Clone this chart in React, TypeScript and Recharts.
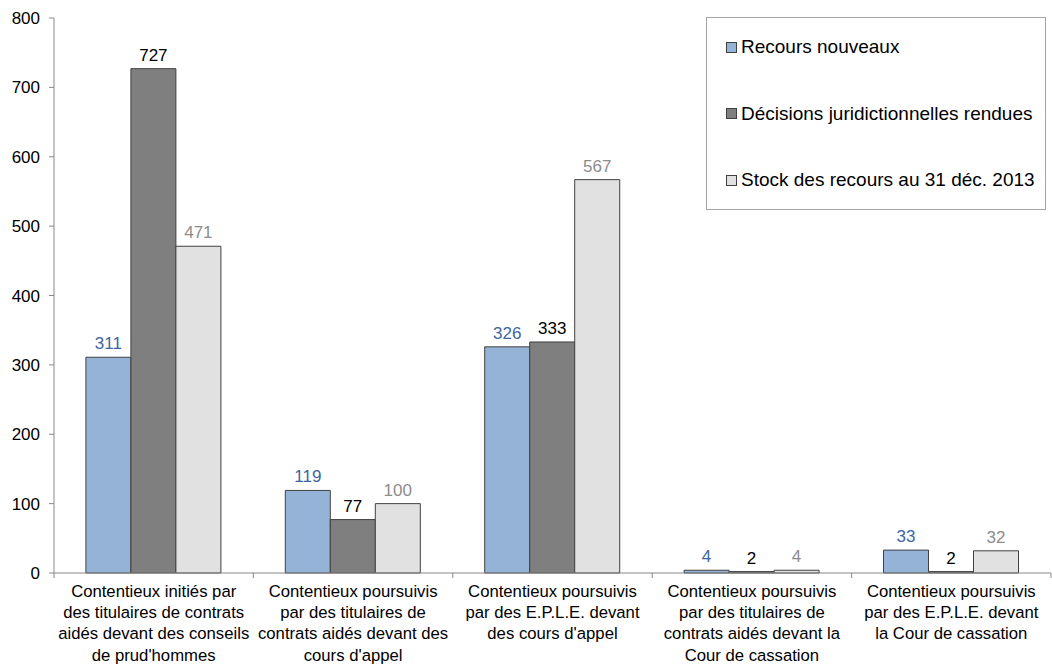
import React from "react";
import { BarChart, Bar, XAxis, YAxis, Legend, LabelList } from "recharts";

const categories = [
  "Contentieux initiés par\ndes titulaires de contrats\naidés devant des conseils\nde prud'hommes",
  "Contentieux poursuivis\npar des titulaires de\ncontrats aidés devant des\ncours d'appel",
  "Contentieux poursuivis\npar des E.P.L.E. devant\ndes cours d'appel",
  "Contentieux poursuivis\npar des titulaires de\ncontrats aidés devant la\nCour de cassation",
  "Contentieux poursuivis\npar des E.P.L.E. devant\nla Cour de cassation",
];

const recoursNouveaux = [311, 119, 326, 4, 33];
const decisionsRendues = [727, 77, 333, 2, 2];
const stockRecours = [471, 100, 567, 4, 32];

const yTicks = [0, 100, 200, 300, 400, 500, 600, 700, 800];

const seriesNames = [
  "Recours nouveaux",
  "Décisions juridictionnelles rendues",
  "Stock des recours au 31 déc. 2013",
];

const data = categories.map((name, i) => ({
  name,
  a: recoursNouveaux[i],
  b: decisionsRendues[i],
  c: stockRecours[i],
}));

const FONT = "'Liberation Sans', Arial, sans-serif";
const W = 1052;
const H = 665;
const M = { top: 18, right: 1, left: 0, bottom: 0 };
const Y_W = 54;
const BAND = (W - M.left - M.right - Y_W) / categories.length;

const colors = ["#95b3d7", "#7f7f7f", "#e1e1e1"];
const labelColors = ["#3d65a0", "#000000", "#8c8c8c"];

const XTick = ({ x, y, payload, index }: any) => {
  const lines = String(payload.value).split("\n");
  return (
    <g>
      {index === 0 && <line x1={x - BAND / 2} x2={x - BAND / 2} y1={y} y2={y + 5} stroke="#888" />}
      <line x1={x + BAND / 2} x2={x + BAND / 2} y1={y} y2={y + 5} stroke="#888" />
      <text x={x} y={y} textAnchor="middle" fontSize={16.7} fontFamily={FONT} fill="#000">
        {lines.map((l, i) => (
          <tspan key={i} x={x} y={y + 24 + i * 21.2}>
            {l}
          </tspan>
        ))}
      </text>
    </g>
  );
};

const LegendBox = () => (
  <div
    style={{
      width: 340,
      height: 193,
      border: "1px solid #a6a6a6",
      background: "#fff",
      fontFamily: FONT,
      fontSize: 19,
      color: "#000",
      position: "relative",
      boxSizing: "border-box",
    }}
  >
    {seriesNames.map((n, i) => (
      <div
        key={n}
        style={{ position: "absolute", left: 19, top: 18 + i * 66.5, display: "flex", alignItems: "center", whiteSpace: "nowrap" }}
      >
        <span
          style={{
            display: "inline-block",
            width: 9,
            height: 9,
            background: colors[i],
            border: "1px solid #404040",
            marginRight: 4,
          }}
        />
        <span>{n}</span>
      </div>
    ))}
  </div>
);

export default function App() {
  const keys = ["a", "b", "c"];
  return (
    <div style={{ position: "absolute", left: 0, top: 0, background: "#fff" }}>
      <BarChart width={W} height={H} data={data} margin={M} barCategoryGap="16%" barGap={0}>
        <XAxis
          dataKey="name"
          interval={0}
          height={92}
          tickSize={0}
          tickMargin={0}
          tick={<XTick />}
          axisLine={{ stroke: "#888" }}
        />
        <YAxis
          width={Y_W}
          domain={[0, 800]}
          ticks={yTicks}
          interval={0}
          tickSize={5}
          tickMargin={9}
          axisLine={{ stroke: "#888" }}
          tickLine={{ stroke: "#888" }}
          tick={{ fontSize: 17, fontFamily: FONT, fill: "#000" }}
        />
        <Legend
          layout="vertical"
          align="center"
          verticalAlign="middle"
          content={<LegendBox />}
          wrapperStyle={{ position: "absolute", left: 706, top: 17, width: 340, height: 193 }}
        />
        {keys.map((k, i) => (
          <Bar key={k} dataKey={k} name={seriesNames[i]} fill={colors[i]} stroke="#404040" strokeWidth={1} isAnimationActive={false}>
            <LabelList dataKey={k} position="top" offset={8} fill={labelColors[i]} fontSize={17} fontFamily={FONT} />
          </Bar>
        ))}
      </BarChart>
    </div>
  );
}
